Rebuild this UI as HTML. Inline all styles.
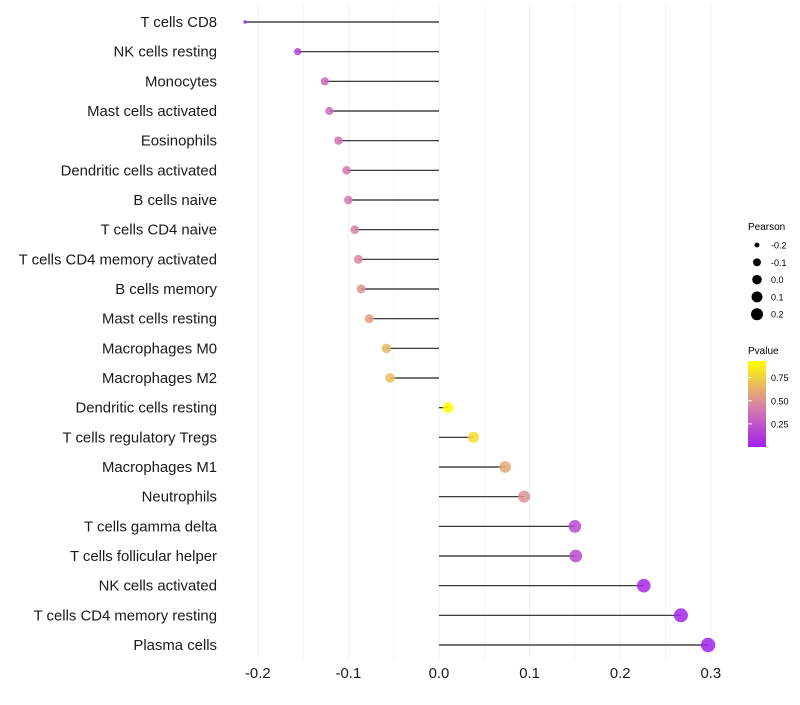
<!DOCTYPE html>
<html><head><meta charset="utf-8"><style>
body{margin:0;background:#fff;font-family:"Liberation Sans",sans-serif}
</style></head><body>
<svg id="chart" width="800" height="700" xmlns="http://www.w3.org/2000/svg" font-family="Liberation Sans, sans-serif">
<defs><linearGradient id="pg" x1="0" y1="1" x2="0" y2="0">
<stop offset="0" stop-color="#a020f0"/><stop offset="0.48" stop-color="#d882a8"/><stop offset="1" stop-color="#ffff00"/>
</linearGradient></defs>
<g id="grid"></g><g id="marks"></g><g id="ylabels"></g><g id="xlabels"></g>
<g id="legend">
<text x="748" y="230" font-size="10">Pearson</text>
<text x="748" y="354" font-size="10">Pvalue</text>
<rect x="748" y="361" width="18" height="86" fill="url(#pg)"/>
</g>
</svg>
<script>
const categories=["T cells CD8","NK cells resting","Monocytes","Mast cells activated","Eosinophils","Dendritic cells activated","B cells naive","T cells CD4 naive","T cells CD4 memory activated","B cells memory","Mast cells resting","Macrophages M0","Macrophages M2","Dendritic cells resting","T cells regulatory  Tregs ","Macrophages M1","Neutrophils","T cells gamma delta","T cells follicular helper","NK cells activated","T cells CD4 memory resting","Plasma cells"];
const pearson=[-0.214,-0.156,-0.126,-0.121,-0.111,-0.102,-0.100,-0.093,-0.089,-0.086,-0.077,-0.058,-0.054,0.010,0.038,0.073,0.094,0.150,0.151,0.226,0.267,0.297];
const pvalue=[0.02,0.15,0.33,0.35,0.38,0.40,0.41,0.45,0.47,0.50,0.55,0.65,0.68,0.93,0.80,0.60,0.50,0.20,0.20,0.05,0.03,0.01];
const xTicks=[-0.2,-0.1,0.0,0.1,0.2,0.3];
const sizeLegend=[-0.2,-0.1,0.0,0.1,0.2];
const colorLegend=[0.25,0.50,0.75];
const NS="http://www.w3.org/2000/svg";
const x=v=>439+v*906;
const y=i=>22+i*(623/21);
const r=v=>1.8+5.4*Math.sqrt(Math.max(0,(v+0.214)/0.511));
function col(p){const t=Math.min(p/0.93,1);let a,b,f;
 if(t<0.48){a=[160,32,240];b=[216,130,168];f=t/0.48}else{a=[216,130,168];b=[255,255,0];f=(t-0.48)/0.52}
 return `rgb(${a.map((c,k)=>Math.round(c+(b[k]-c)*f)).join(",")})`;}
function mk(tag,attrs,parent,txt){const e=document.createElementNS(NS,tag);for(const k in attrs)e.setAttribute(k,attrs[k]);if(txt!==undefined)e.textContent=txt;document.getElementById(parent).appendChild(e);return e;}
for(let v=-0.2;v<=0.3001;v+=0.05){const g=mk("line",{x1:x(v),x2:x(v),y1:5,y2:660,stroke:"#efefef","stroke-width":Math.abs(Math.round(v*20))%2===0?1:0.6},"grid");

}
categories.forEach((c,i)=>{
 const s=mk("line",{x1:x(0),x2:x(pearson[i]),y1:y(i),y2:y(i),stroke:"#222","stroke-width":1.2},"marks");
 
 
 const p=mk("circle",{cx:x(pearson[i]),cy:y(i),r:r(pearson[i]),fill:col(pvalue[i]),"fill-opacity":0.85},"marks");
 
 
 const t=mk("text",{x:217,y:y(i)+5,"text-anchor":"end","font-size":14.9,fill:"#1a1a1a"},"ylabels",c);
 
 
});
xTicks.forEach(v=>{const t=mk("text",{x:x(v),y:678,"text-anchor":"middle","font-size":14.9,fill:"#1a1a1a"},"xlabels",v.toFixed(1));

});
sizeLegend.forEach((v,i)=>{const cy=245+i*17.3;
 const c=mk("circle",{cx:757,cy:cy,r:r(v)*0.9,fill:"#000"},"legend");
 
 
 const t=mk("text",{x:771,y:cy+3.5,"font-size":9},"legend",v.toFixed(1));
 
 });
colorLegend.forEach(v=>{const cy=447-v/0.93*86;
 const l=mk("line",{x1:748,x2:752,y1:cy,y2:cy,stroke:"#fff"},"legend");
 
 
 const t=mk("text",{x:771,y:cy+3.5,"font-size":9},"legend",v.toFixed(2));
 
 });
</script>
</body></html>
